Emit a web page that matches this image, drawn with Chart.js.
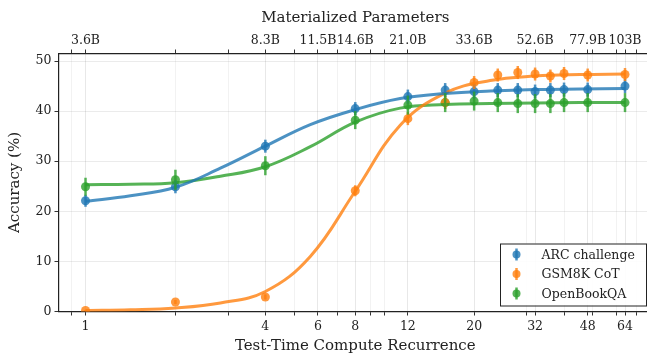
<!DOCTYPE html>
<html>
<head>
<meta charset="utf-8">
<script src="https://cdn.jsdelivr.net/npm/chart.js@4.4.0/dist/chart.umd.min.js"></script>
<style>
html,body{margin:0;padding:0;background:#fff;overflow:hidden;}
#wrap{width:660px;height:355px;}
</style>
</head>
<body>
<div id="wrap"><canvas id="chart" width="660" height="355"></canvas></div>
<script>
// ---- data ----
const recurrence = [1, 2, 4, 8, 12, 16, 20, 24, 28, 32, 36, 40, 48, 64];

const arcAcc  = [22.1, 24.9, 33.0, 40.5, 42.9, 44.2, 43.9, 44.2, 44.2, 43.9, 44.2, 44.3, 44.3, 45.0];
const arcErr  = [1.2, 1.3, 1.3, 1.3, 1.4, 1.4, 1.4, 1.4, 1.4, 1.4, 1.4, 1.4, 1.4, 1.4];
const gsmAcc  = [0.2, 1.9, 2.9, 24.1, 38.5, 41.7, 45.7, 47.2, 47.7, 47.4, 47.0, 47.5, 47.2, 47.3];
const gsmErr  = [0.1, 0.4, 0.5, 1.1, 1.3, 1.3, 1.3, 1.3, 1.3, 1.3, 1.3, 1.3, 1.3, 1.3];
const obqaAcc = [24.9, 26.3, 29.1, 38.2, 41.2, 41.7, 42.0, 41.7, 41.5, 41.5, 41.5, 41.7, 41.7, 41.7];
const obqaErr = [1.8, 2.0, 1.9, 1.8, 1.9, 1.9, 1.9, 1.9, 1.9, 1.9, 1.9, 1.9, 1.9, 1.9];

// fitted curves, every half octave
const fitX    = [1, 1.414, 2, 2.828, 4, 5.657, 8, 11.31, 16, 22.63, 32, 45.25, 64];
const arcFit  = [22.0, 23.1, 24.8, 28.6, 33.0, 37.3, 40.3, 42.5, 43.5, 44.0, 44.3, 44.4, 44.5];
const gsmFit  = [0.2, 0.35, 0.7, 1.7, 4.0, 11.0, 24.0, 37.2, 43.6, 46.1, 47.0, 47.3, 47.4];
const obqaFit = [25.3, 25.4, 25.7, 27.0, 28.9, 32.9, 37.8, 40.6, 41.3, 41.5, 41.6, 41.7, 41.7];

const seriesNames = ["ARC challenge", "GSM8K CoT", "OpenBookQA"];

const tickValues  = [1, 4, 6, 8, 12, 20, 32, 48, 64];
const paramLabels = ["3.6B", "8.3B", "11.5B", "14.6B", "21.0B", "33.6B", "52.6B", "77.9B", "103B"];
const minorTicks  = [0.9, 2, 3, 5, 7, 9, 10, 30, 40, 50, 60, 70];
const yTicks      = [0, 10, 20, 30, 40, 50];

// ---- style ----
const FONT = "'DejaVu Serif', serif";
const colors = ["rgba(31,119,180,0.8)", "rgba(255,127,14,0.8)", "rgba(44,160,44,0.8)"];
const xMin = 0.812, xMax = 78.8;

const allTicks = minorTicks.concat(tickValues).sort((a,b)=>a-b);

function pts(xs, ys){ return xs.map((x,i)=>({x:x, y:ys[i]})); }

const accs = [arcAcc, gsmAcc, obqaAcc];
const errs = [arcErr, gsmErr, obqaErr];
const fits = [arcFit, gsmFit, obqaFit];

let datasets = [];
for(let i=0;i<3;i++){
  datasets.push({
    label: seriesNames[i] + " fit",
    data: pts(fitX, fits[i]),
    borderColor: colors[i],
    borderWidth: 3,
    pointRadius: 0,
    tension: 0.4,
    fill: false
  });
}
for(let i=0;i<3;i++){
  datasets.push({
    label: seriesNames[i],
    data: pts(recurrence, accs[i]),
    showLine: false,
    pointRadius: 4.5,
    pointBackgroundColor: colors[i],
    pointBorderColor: "rgba(0,0,0,0)",
    borderColor: colors[i],
    errIndex: i
  });
}

// error bars, drawn through the y scale
const errorBars = {
  id: "errorBars",
  afterDatasetsDraw(chart){
    const ctx = chart.ctx, y = chart.scales.y;
    chart.data.datasets.forEach((ds, di)=>{
      if(ds.errIndex === undefined) return;
      const meta = chart.getDatasetMeta(di);
      const e = errs[ds.errIndex];
      ctx.save();
      ctx.strokeStyle = colors[ds.errIndex];
      ctx.lineWidth = 2.5;
      meta.data.forEach((p, k)=>{
        const v = ds.data[k].y;
        ctx.beginPath();
        ctx.moveTo(p.x, y.getPixelForValue(v - e[k]));
        ctx.lineTo(p.x, y.getPixelForValue(v + e[k]));
        ctx.stroke();
      });
      ctx.restore();
    });
  }
};

// legend box in the lower right corner
const boxLegend = {
  id: "boxLegend",
  afterDraw(chart){
    const ctx = chart.ctx, a = chart.chartArea;
    const w = 146, h = 62;
    const right = a.right - 6, bottom = a.bottom - 6;
    const left = right - w, top = bottom - h;
    ctx.save();
    ctx.fillStyle = "rgba(255,255,255,0.9)";
    ctx.fillRect(left, top, w, h);
    ctx.strokeStyle = "#222";
    ctx.lineWidth = 1;
    ctx.strokeRect(left + 0.5, top + 0.5, w, h);
    ctx.font = "12.5px " + FONT;
    ctx.textBaseline = "middle";
    for(let i=0;i<3;i++){
      const cy = top + 11 + i*19.5;
      const mx = left + 16.5;
      ctx.strokeStyle = colors[i];
      ctx.lineWidth = 2.5;
      ctx.beginPath();
      ctx.moveTo(mx, cy - 6);
      ctx.lineTo(mx, cy + 6);
      ctx.stroke();
      ctx.fillStyle = colors[i];
      ctx.beginPath();
      ctx.arc(mx, cy, 4, 0, Math.PI*2);
      ctx.fill();
      ctx.fillStyle = "#222";
      ctx.fillText(seriesNames[i], left + 41.5, cy + 1);
    }
    ctx.restore();
  }
};

function gridColor(c){
  if(!c.tick) return "rgba(0,0,0,0.08)";
  return tickValues.includes(c.tick.value) ? "rgba(0,0,0,0.09)" : "rgba(0,0,0,0.05)";
}

new Chart(document.getElementById("chart"), {
  type: "line",
  data: { datasets: datasets },
  plugins: [errorBars, boxLegend],
  options: {
    responsive: false,
    animation: false,
    layout: { padding: { right: 8 } },
    plugins: { legend: { display: false }, tooltip: { enabled: false } },
    scales: {
      x: {
        type: "logarithmic",
        position: "bottom",
        min: xMin, max: xMax,
        afterBuildTicks: ax => { ax.ticks = allTicks.map(v=>({value:v})); },
        afterFit: ax => { ax.height = 43.5; },
        ticks: {
          autoSkip: false, maxRotation: 0, padding: 4, color: "#222",
          font: { family: FONT, size: 12.5 },
          callback: v => tickValues.includes(v) ? String(v) : ""
        },
        grid: { color: gridColor, tickColor: "#333", tickLength: 4 },
        border: { color: "#222", width: 1.2 },
        title: { display: true, text: "Test-Time Compute Recurrence", color: "#222",
                 font: { family: FONT, size: 15 }, padding: { top: 2, bottom: 0 } }
      },
      x2: {
        type: "logarithmic",
        position: "top",
        display: true,
        min: xMin, max: xMax,
        afterBuildTicks: ax => { ax.ticks = allTicks.map(v=>({value:v})); },
        afterFit: ax => { ax.height = 53.5; },
        ticks: {
          autoSkip: false, maxRotation: 0, padding: 1, color: "#222",
          font: { family: FONT, size: 12.5 },
          callback: v => { const i = tickValues.indexOf(v); return i >= 0 ? paramLabels[i] : ""; }
        },
        grid: { drawOnChartArea: false, tickColor: "#333", tickLength: 4 },
        border: { color: "#222", width: 1.2 },
        title: { display: true, text: "Materialized Parameters", color: "#222",
                 font: { family: FONT, size: 15 }, padding: { top: 9, bottom: 0 } }
      },
      y: {
        min: 0, max: 51.5,
        afterBuildTicks: ax => { ax.ticks = yTicks.map(v=>({value:v})); },
        afterFit: ax => { ax.width = 58.5; },
        ticks: { padding: 3, color: "#222", font: { family: FONT, size: 12.5 } },
        grid: { color: "rgba(0,0,0,0.08)", tickColor: "#333", tickLength: 4 },
        border: { color: "#222", width: 1.2 },
        title: { display: true, text: "Accuracy (%)", color: "#222",
                 font: { family: FONT, size: 15 }, padding: { top: 6, bottom: 0 } }
      }
    }
  }
});
</script>
</body>
</html>
